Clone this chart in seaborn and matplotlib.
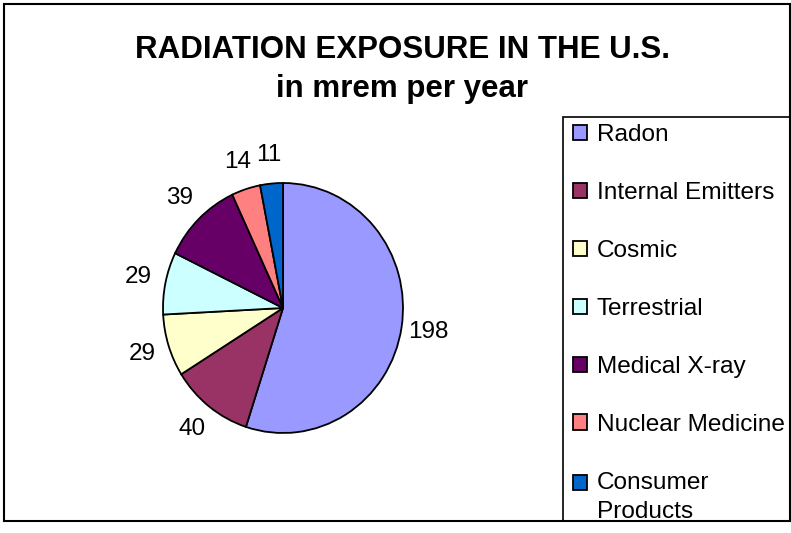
import matplotlib
matplotlib.use("Agg")
import matplotlib.pyplot as plt
from matplotlib.patches import Rectangle
from matplotlib.legend_handler import HandlerPatch
import seaborn as sns

sns.set_theme(style="white")
plt.rcParams['font.family'] = ['Liberation Sans', 'DejaVu Sans']
plt.rcParams['text.color'] = 'black'

# data
sources = ["Radon", "Internal Emitters", "Cosmic", "Terrestrial",
           "Medical X-ray", "Nuclear Medicine", "Consumer\nProducts"]
mrem = [198, 40, 29, 29, 39, 14, 11]
colors = ["#9999FF", "#993366", "#FFFFCC", "#CCFFFF", "#660066", "#FF8080", "#0066CC"]

W, H = 791, 533
fig = plt.figure(figsize=(W / 100, H / 100), dpi=100)

# outer chart border
fig.patches.append(Rectangle((4 / W, 12 / H), 786 / W, 517 / H, transform=fig.transFigure,
                             fill=False, edgecolor="black", linewidth=1.5))
# legend box
fig.patches.append(Rectangle((563 / W, 12 / H), 227 / W, 404 / H, transform=fig.transFigure,
                             fill=False, edgecolor="black", linewidth=1.2))

# pie axes, centre ~ (283, 308) px
cx, cy, rx, ry = 283, 308, 120, 125
ax = fig.add_axes([(cx - rx) / W, (H - cy - ry) / H, 2 * rx / W, 2 * ry / H])
wedges, texts = ax.pie(mrem, colors=colors, startangle=90, counterclock=False,
                       labels=[str(v) for v in mrem], labeldistance=1.23,
                       wedgeprops=dict(edgecolor="black", linewidth=1.3),
                       textprops=dict(fontsize=17.5, color="black"))
for t in texts:
    t.set_ha("center")
    t.set_va("center")
ax.set_xlim(-1, 1)
ax.set_ylim(-1, 1)
ax.set_aspect("auto")

fig.text(402 / W, 1 - 50 / H, "RADIATION EXPOSURE IN THE U.S.", ha="center", va="center",
         fontsize=22.5, fontweight="bold")
fig.text(402 / W, 1 - 89 / H, "in mrem per year", ha="center", va="center",
         fontsize=22.5, fontweight="bold")


# square for the two-line entry sits next to the first line, like excel does
def top_square(legend, orig_handle, xdescent, ydescent, width, height, fontsize):
    return Rectangle((-xdescent, -ydescent + 0.62 * fontsize), width, height)


leg = fig.legend(wedges, sources, loc="upper left",
                 bbox_to_anchor=(573 / W, 1 - 124 / H), bbox_transform=fig.transFigure,
                 fontsize=17.6, frameon=False,
                 handlelength=0.58, handleheight=0.58, handletextpad=0.4,
                 labelspacing=1.47, borderpad=0, borderaxespad=0,
                 handler_map={wedges[-1]: HandlerPatch(patch_func=top_square)})
leg.get_texts()[-1].set_linespacing(1.45)

fig.savefig("out.png", dpi=100)
